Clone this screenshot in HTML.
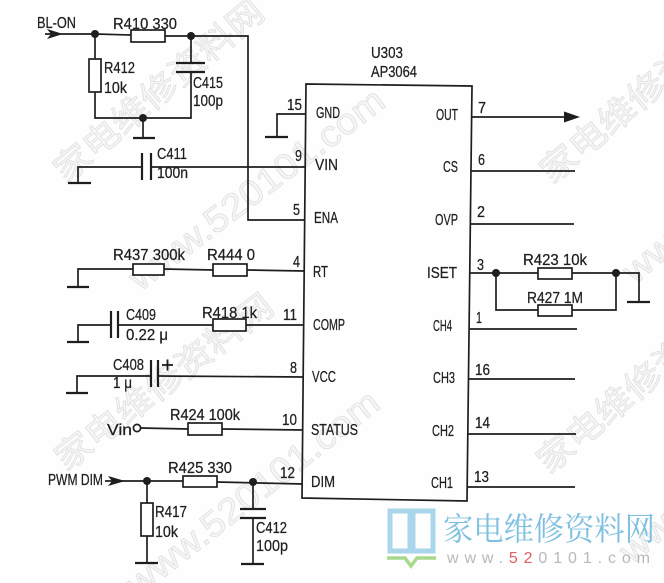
<!DOCTYPE html>
<html><head><meta charset="utf-8"><style>
html,body{margin:0;padding:0;background:#fff;}
svg{display:block;}
.t{font-family:"Liberation Sans","Noto Sans CJK SC",sans-serif;font-size:15.5px;fill:#1e1e1e;stroke:#1e1e1e;stroke-width:0.25;}
.w{font-family:"Noto Sans CJK SC","Liberation Sans",sans-serif;fill:#f6f6f6;stroke:#e0e0e0;stroke-width:0.8;}
.wl{font-family:"Liberation Sans",sans-serif;fill:#f6f6f6;stroke:#e0e0e0;stroke-width:0.8;}
</style></head><body>
<svg width="664" height="583" viewBox="0 0 664 583" xmlns="http://www.w3.org/2000/svg">
<rect width="664" height="583" fill="#fefefe"/>
<!-- watermarks -->
<text class="w" font-size="34" transform="translate(66,184) rotate(-40)" textLength="262" lengthAdjust="spacingAndGlyphs">家电维修资料网</text>
<text class="w" font-size="34" transform="translate(66,472) rotate(-37.5)" textLength="265" lengthAdjust="spacingAndGlyphs">家电维修资料网</text>
<text class="w" font-size="34" transform="translate(552,185) rotate(-40)" textLength="265" lengthAdjust="spacingAndGlyphs">家电维修资料网</text>
<text class="w" font-size="34" transform="translate(549,475) rotate(-40)" textLength="265" lengthAdjust="spacingAndGlyphs">家电维修资料网</text>
<text class="wl" font-size="36" transform="translate(140,292) rotate(-37)" textLength="310" lengthAdjust="spacingAndGlyphs">www.520101.com</text>
<text class="wl" font-size="36" transform="translate(138,598) rotate(-38)" textLength="310" lengthAdjust="spacingAndGlyphs">www.520101.com</text>
<text class="wl" font-size="36" transform="translate(635,285) rotate(-40)" textLength="310" lengthAdjust="spacingAndGlyphs">www.520101.com</text>
<text class="wl" font-size="36" transform="translate(632,565) rotate(-40)" textLength="310" lengthAdjust="spacingAndGlyphs">www.520101.com</text>

<g stroke="#1e1e1e" stroke-width="1.7" fill="none">
<!-- IC box -->
<polygon points="306,84 472,86 467,501 302,498"/>
<!-- BL-ON -->
<polyline points="45,34 95,34 131,35"/>
<polyline points="165,36 191,36 248,36 248,220 305,220"/>
<rect x="131" y="30" width="34" height="12" fill="#fff"/>
<line x1="95" y1="34" x2="95" y2="59"/>
<rect x="89" y="59" width="12" height="33" fill="#fff"/>
<polyline points="95,92 95,118 191,118 191,72"/>
<line x1="191" y1="36" x2="191" y2="63"/>
<line x1="176" y1="63" x2="205" y2="63" stroke-width="2.2"/>
<line x1="176" y1="72" x2="205" y2="72" stroke-width="2.2"/>
<line x1="143" y1="118" x2="143" y2="138"/>
<line x1="133" y1="138" x2="155" y2="138" stroke-width="2.2"/>
<!-- C411 / VIN -->
<polyline points="78,183 78,167 142,167"/>
<line x1="68" y1="183" x2="91" y2="183" stroke-width="2.2"/>
<line x1="142" y1="153" x2="142" y2="180" stroke-width="2.2"/>
<line x1="151" y1="153" x2="151" y2="180" stroke-width="2.2"/>
<line x1="151" y1="167" x2="305" y2="167"/>
<!-- GND -->
<polyline points="305,114 277,114 277,137"/>
<line x1="265" y1="137" x2="288" y2="137" stroke-width="2.2"/>
<!-- RT -->
<polyline points="78,287 78,269 133,269"/>
<line x1="67" y1="287" x2="89" y2="287" stroke-width="2.2"/>
<rect x="133" y="264" width="31" height="11" fill="#fff"/>
<line x1="164" y1="269" x2="213" y2="270"/>
<rect x="213" y="264" width="34" height="12" fill="#fff"/>
<line x1="247" y1="270" x2="304" y2="271"/>
<!-- COMP -->
<polyline points="78,342 78,325 111,325"/>
<line x1="67" y1="342" x2="89" y2="342" stroke-width="2.2"/>
<line x1="111" y1="311" x2="111" y2="338" stroke-width="2.2"/>
<line x1="118" y1="311" x2="118" y2="338" stroke-width="2.2"/>
<line x1="118" y1="325" x2="213" y2="325"/>
<rect x="213" y="319" width="33" height="12" fill="#fff"/>
<line x1="246" y1="325" x2="303" y2="325"/>
<!-- VCC -->
<polyline points="77,393 77,376 151,376"/>
<line x1="66" y1="393" x2="88" y2="393" stroke-width="2.2"/>
<line x1="151" y1="360" x2="151" y2="387" stroke-width="2.2"/>
<line x1="158" y1="360" x2="158" y2="387" stroke-width="2.2"/>
<line x1="158" y1="376" x2="303" y2="377"/>
<line x1="162" y1="365" x2="173" y2="365" stroke-width="1.8"/>
<line x1="167.5" y1="359.5" x2="167.5" y2="370.5" stroke-width="1.8"/>
<!-- STATUS -->
<circle cx="137" cy="428" r="3.6" fill="#fff"/>
<line x1="141" y1="428" x2="188" y2="429"/>
<rect x="188" y="423" width="34" height="12" fill="#fff"/>
<line x1="222" y1="429" x2="303" y2="430"/>
<!-- DIM -->
<line x1="105" y1="481" x2="183" y2="481"/>
<rect x="183" y="476" width="34" height="11" fill="#fff"/>
<line x1="217" y1="482" x2="303" y2="484"/>
<line x1="147" y1="481" x2="147" y2="503"/>
<rect x="141" y="503" width="12" height="33" fill="#fff"/>
<line x1="147" y1="536" x2="147" y2="563"/>
<line x1="135" y1="563" x2="158" y2="563" stroke-width="2.2"/>
<line x1="253" y1="482" x2="253" y2="509"/>
<line x1="240" y1="509" x2="266" y2="509" stroke-width="2.2"/>
<line x1="240" y1="518" x2="266" y2="518" stroke-width="2.2"/>
<line x1="253" y1="518" x2="253" y2="564"/>
<line x1="241" y1="564" x2="264" y2="564" stroke-width="2.2"/>
<!-- right pins -->
<line x1="471" y1="117" x2="566" y2="117"/>
<line x1="471" y1="171" x2="575" y2="171"/>
<line x1="470" y1="224" x2="574" y2="224"/>
<line x1="470" y1="273" x2="538" y2="273"/>
<rect x="538" y="268" width="34" height="11" fill="#fff"/>
<polyline points="572,273 639,273 639,302"/>
<line x1="627" y1="302" x2="650" y2="302" stroke-width="2.2"/>
<polyline points="496,273 496,310 538,310"/>
<rect x="538" y="305" width="34" height="11" fill="#fff"/>
<polyline points="572,310 616,310 616,273"/>
<line x1="469" y1="329" x2="577" y2="329"/>
<line x1="469" y1="379" x2="575" y2="379"/>
<line x1="468" y1="434" x2="576" y2="434"/>
<line x1="467" y1="487" x2="575" y2="487"/>
</g>
<!-- arrows & dots -->
<g fill="#1e1e1e">
<polygon points="47,29 63,34 47,39 51,34"/>
<polygon points="108,476 125,481 108,486 112,481"/>
<polygon points="564,111.5 580,117 564,122.5"/>
<circle cx="95" cy="34" r="4"/>
<circle cx="191" cy="36" r="4"/>
<circle cx="143" cy="118" r="4"/>
<circle cx="496" cy="273" r="4"/>
<circle cx="616" cy="273" r="4"/>
<circle cx="147" cy="481" r="4"/>
<circle cx="253" cy="482" r="4"/>
</g>

<!-- labels -->
<g class="t">
<text x="37" y="28" textLength="39" lengthAdjust="spacingAndGlyphs">BL-ON</text>
<text x="113" y="29" textLength="64" lengthAdjust="spacingAndGlyphs">R410 330</text>
<text x="104" y="73" textLength="31" lengthAdjust="spacingAndGlyphs">R412</text>
<text x="104" y="93" textLength="23" lengthAdjust="spacingAndGlyphs">10k</text>
<text x="193" y="88" textLength="30" lengthAdjust="spacingAndGlyphs">C415</text>
<text x="193" y="106" textLength="30" lengthAdjust="spacingAndGlyphs">100p</text>
<text x="157" y="159" textLength="30" lengthAdjust="spacingAndGlyphs">C411</text>
<text x="157" y="178" textLength="31" lengthAdjust="spacingAndGlyphs">100n</text>
<text x="371" y="58" textLength="32" lengthAdjust="spacingAndGlyphs">U303</text>
<text x="371" y="77" textLength="46" lengthAdjust="spacingAndGlyphs">AP3064</text>
<text x="287" y="110" textLength="15" lengthAdjust="spacingAndGlyphs">15</text>
<text x="316" y="118" textLength="24" lengthAdjust="spacingAndGlyphs">GND</text>
<text x="295" y="161" textLength="7" lengthAdjust="spacingAndGlyphs">9</text>
<text x="315" y="170" textLength="23" lengthAdjust="spacingAndGlyphs">VIN</text>
<text x="293" y="215" textLength="7" lengthAdjust="spacingAndGlyphs">5</text>
<text x="314" y="223" textLength="24" lengthAdjust="spacingAndGlyphs">ENA</text>
<text x="293" y="267" textLength="7" lengthAdjust="spacingAndGlyphs">4</text>
<text x="313" y="277" textLength="15" lengthAdjust="spacingAndGlyphs">RT</text>
<text x="283" y="320" textLength="14" lengthAdjust="spacingAndGlyphs">11</text>
<text x="313" y="330" textLength="32" lengthAdjust="spacingAndGlyphs">COMP</text>
<text x="290" y="373" textLength="7" lengthAdjust="spacingAndGlyphs">8</text>
<text x="312" y="382" textLength="24" lengthAdjust="spacingAndGlyphs">VCC</text>
<text x="282" y="425" textLength="15" lengthAdjust="spacingAndGlyphs">10</text>
<text x="311" y="435" textLength="47" lengthAdjust="spacingAndGlyphs">STATUS</text>
<text x="280" y="478" textLength="15" lengthAdjust="spacingAndGlyphs">12</text>
<text x="311" y="487" textLength="24" lengthAdjust="spacingAndGlyphs">DIM</text>

<text x="436" y="120" textLength="22" lengthAdjust="spacingAndGlyphs">OUT</text>
<text x="478" y="113" textLength="8" lengthAdjust="spacingAndGlyphs">7</text>
<text x="443" y="172" textLength="15" lengthAdjust="spacingAndGlyphs">CS</text>
<text x="478" y="165" textLength="7" lengthAdjust="spacingAndGlyphs">6</text>
<text x="435" y="225" textLength="23" lengthAdjust="spacingAndGlyphs">OVP</text>
<text x="477" y="217" textLength="8" lengthAdjust="spacingAndGlyphs">2</text>
<text x="427" y="278" textLength="30" lengthAdjust="spacingAndGlyphs">ISET</text>
<text x="477" y="270" textLength="7" lengthAdjust="spacingAndGlyphs">3</text>
<text x="433" y="331" textLength="19" lengthAdjust="spacingAndGlyphs">CH4</text>
<text x="476" y="323" textLength="6" lengthAdjust="spacingAndGlyphs">1</text>
<text x="433" y="383" textLength="22" lengthAdjust="spacingAndGlyphs">CH3</text>
<text x="475" y="375" textLength="15" lengthAdjust="spacingAndGlyphs">16</text>
<text x="432" y="436" textLength="22" lengthAdjust="spacingAndGlyphs">CH2</text>
<text x="475" y="428" textLength="15" lengthAdjust="spacingAndGlyphs">14</text>
<text x="431" y="488" textLength="22" lengthAdjust="spacingAndGlyphs">CH1</text>
<text x="474" y="482" textLength="15" lengthAdjust="spacingAndGlyphs">13</text>
<text x="523" y="265" textLength="64" lengthAdjust="spacingAndGlyphs">R423 10k</text>
<text x="527" y="303" textLength="56" lengthAdjust="spacingAndGlyphs">R427 1M</text>

<text x="113" y="260" textLength="72" lengthAdjust="spacingAndGlyphs">R437 300k</text>
<text x="207" y="260" textLength="48" lengthAdjust="spacingAndGlyphs">R444 0</text>
<text x="126" y="320" textLength="30" lengthAdjust="spacingAndGlyphs">C409</text>
<text x="126" y="340" textLength="42" lengthAdjust="spacingAndGlyphs">0.22 μ</text>
<text x="202" y="318" textLength="55" lengthAdjust="spacingAndGlyphs">R418 1k</text>
<text x="113" y="370" textLength="31" lengthAdjust="spacingAndGlyphs">C408</text>
<text x="113" y="388" textLength="19" lengthAdjust="spacingAndGlyphs">1 μ</text>
<text x="107" y="435" textLength="25" lengthAdjust="spacingAndGlyphs">Vin</text>
<text x="170" y="420" textLength="70" lengthAdjust="spacingAndGlyphs">R424 100k</text>
<text x="48" y="485" textLength="55" lengthAdjust="spacingAndGlyphs">PWM DIM</text>
<text x="168" y="473" textLength="64" lengthAdjust="spacingAndGlyphs">R425 330</text>
<text x="155" y="517" textLength="32" lengthAdjust="spacingAndGlyphs">R417</text>
<text x="155" y="537" textLength="23" lengthAdjust="spacingAndGlyphs">10k</text>
<text x="256" y="533" textLength="31" lengthAdjust="spacingAndGlyphs">C412</text>
<text x="256" y="551" textLength="32" lengthAdjust="spacingAndGlyphs">100p</text>
</g>

<!-- logo -->
<g fill="none" stroke="#a9d6ea" stroke-width="5">
<rect x="390" y="511" width="20" height="40"/>
<rect x="413" y="511" width="20" height="40"/>
</g>
<polyline points="387,558 405,558 411,566 417,558 436,558" fill="none" stroke="#a8d88e" stroke-width="3.5"/>
<text x="443" y="540" font-size="32" fill="#7fc0e0" textLength="212" lengthAdjust="spacingAndGlyphs" style="font-family:'Noto Serif CJK SC','Noto Sans CJK SC',serif">家电维修资料网</text>
<text x="447" y="563" font-size="16" textLength="203" lengthAdjust="spacing" style="font-family:'Liberation Sans',sans-serif" fill="#b8b8b8">www.<tspan fill="#e06060">52</tspan>0101.com</text>
</svg>
</body></html>
